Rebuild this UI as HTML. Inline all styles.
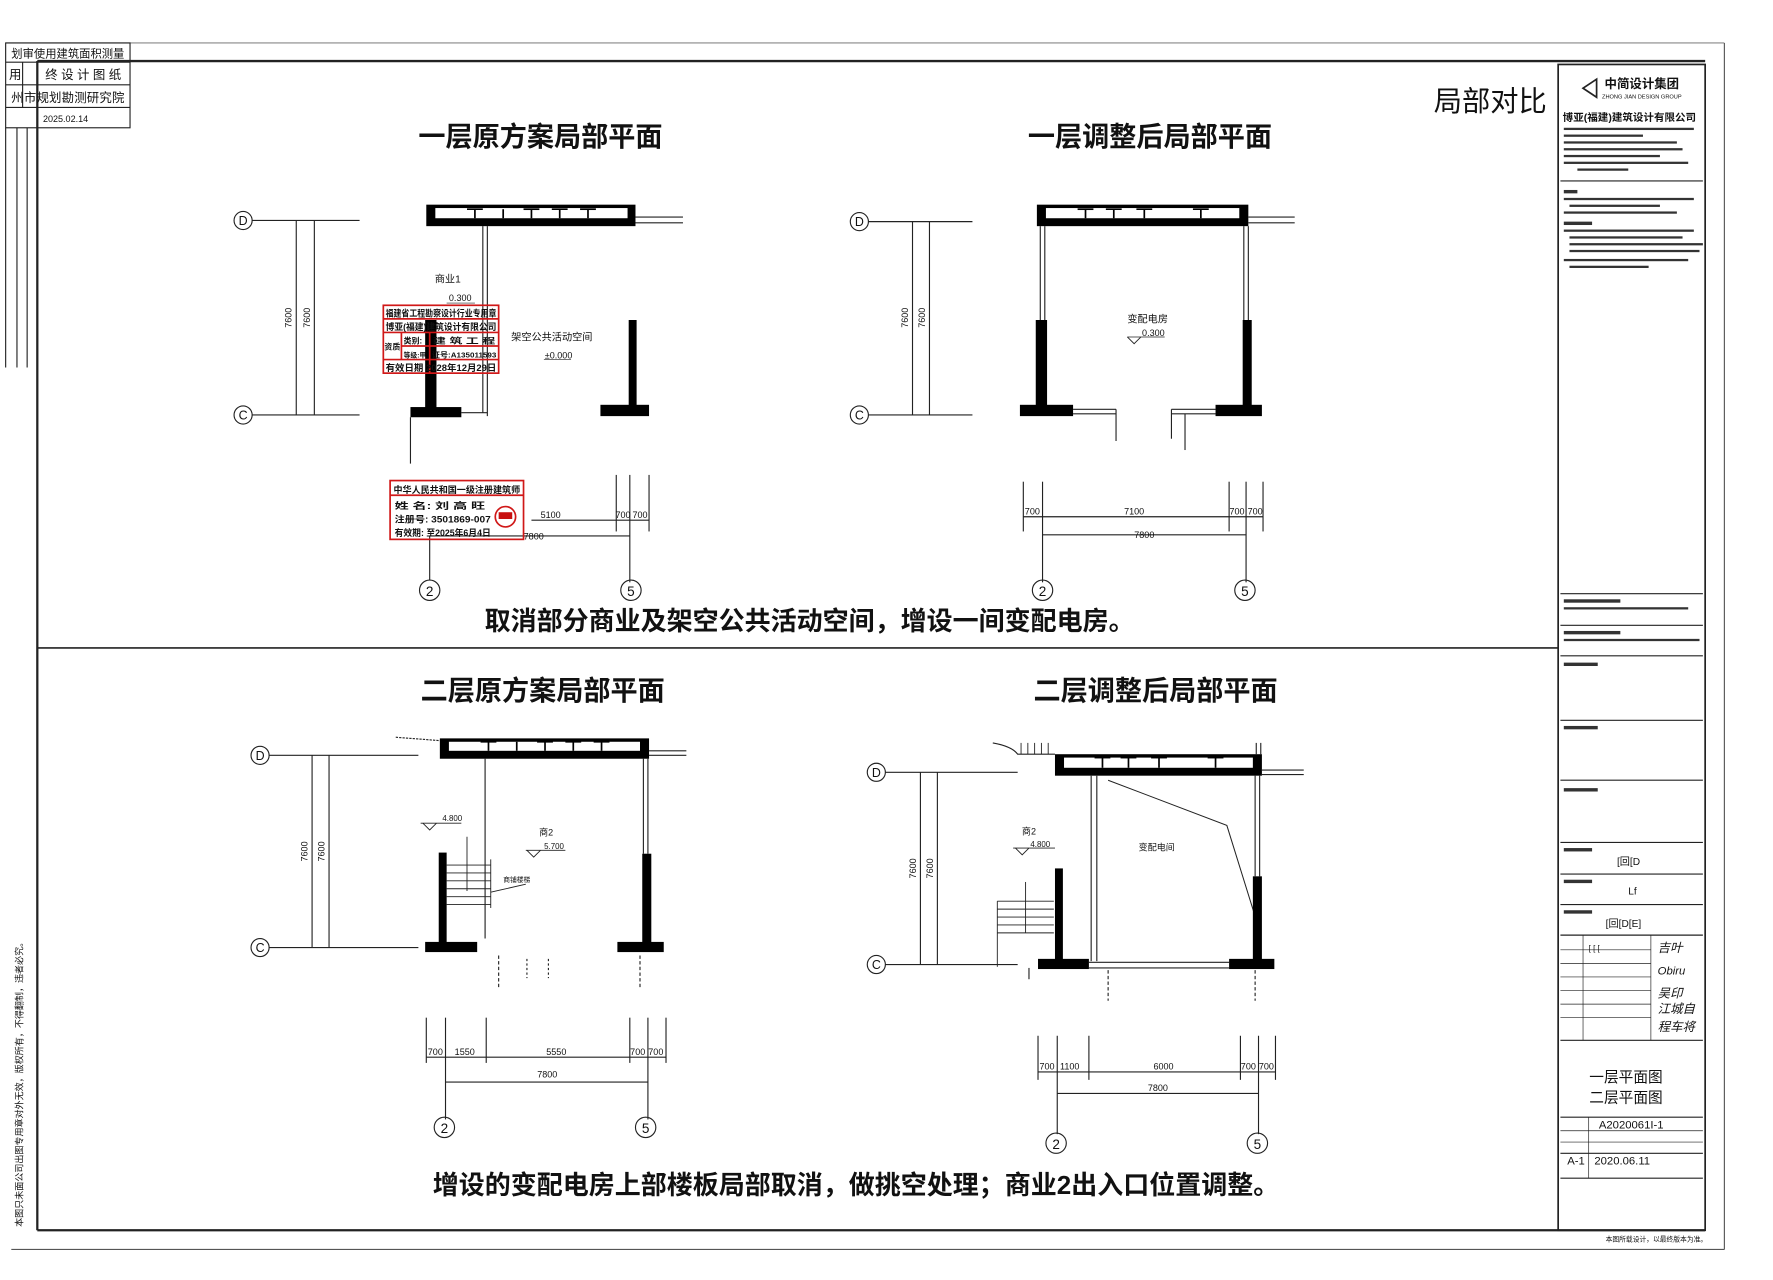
<!DOCTYPE html>
<html><head><meta charset="utf-8"><style>
html,body{margin:0;padding:0;background:#fff;}
svg{display:block;}
text{font-family:"Liberation Sans","Noto Sans CJK SC",sans-serif;fill:#111;}
.t{font-size:24px;font-weight:bold;}
.d{font-size:8px;}
.ax{font-size:11px;}
</style></head><body>
<svg width="1773" height="1280" viewBox="0 0 1568 1132" preserveAspectRatio="none" xmlns="http://www.w3.org/2000/svg">
<rect width="1568" height="1132" fill="#fff"/>
<g stroke="#222" fill="none">
<line x1="5" y1="38" x2="1525" y2="38" stroke="#888"/>
<line x1="33" y1="54" x2="1508" y2="54" stroke-width="2"/>
<line x1="33" y1="54" x2="33" y2="1088" stroke-width="2"/>
<line x1="33" y1="1088" x2="1508" y2="1088" stroke-width="2"/>
<line x1="1525" y1="38" x2="1525" y2="1105" stroke="#555"/>
<line x1="10" y1="1105" x2="1525" y2="1105" stroke="#555"/>
<line x1="33" y1="573" x2="1378" y2="573" stroke-width="1.5"/>
<rect x="1378" y="57" width="130" height="1031" stroke-width="1.5"/>
<line x1="1380" y1="160" x2="1506" y2="160"/>
<line x1="1380" y1="525" x2="1506" y2="525"/>
<line x1="1380" y1="553" x2="1506" y2="553"/>
<line x1="1380" y1="580" x2="1506" y2="580"/>
<line x1="1380" y1="637" x2="1506" y2="637"/>
<line x1="1380" y1="690" x2="1506" y2="690"/>
<line x1="1380" y1="745" x2="1506" y2="745"/>
<line x1="1380" y1="773" x2="1506" y2="773"/>
<line x1="1380" y1="800" x2="1506" y2="800"/>
<line x1="1380" y1="827" x2="1506" y2="827"/>
<line x1="1380" y1="920" x2="1506" y2="920"/>
<line x1="1380" y1="988" x2="1506" y2="988"/>
<line x1="1380" y1="1020" x2="1506" y2="1020"/>
<line x1="1380" y1="1042" x2="1506" y2="1042"/>
<g stroke-width="0.6">
<line x1="1380" y1="840" x2="1460" y2="840"/><line x1="1380" y1="852" x2="1460" y2="852"/>
<line x1="1380" y1="864" x2="1460" y2="864"/><line x1="1380" y1="876" x2="1460" y2="876"/>
<line x1="1380" y1="888" x2="1460" y2="888"/><line x1="1380" y1="900" x2="1460" y2="900"/>
<line x1="1400" y1="827" x2="1400" y2="920"/><line x1="1460" y1="827" x2="1460" y2="920"/>
<line x1="1380" y1="1000" x2="1506" y2="1000"/><line x1="1380" y1="1010" x2="1506" y2="1010"/>
<line x1="1405" y1="988" x2="1405" y2="1042"/>
</g>
<rect x="5" y="38" width="110" height="75"/>
<line x1="5" y1="55" x2="115" y2="55"/><line x1="5" y1="75" x2="115" y2="75"/><line x1="5" y1="95" x2="115" y2="95"/>
<line x1="20" y1="55" x2="20" y2="95"/><line x1="33" y1="55" x2="33" y2="113"/>
<line x1="5" y1="113" x2="5" y2="325"/><line x1="15" y1="113" x2="15" y2="325"/><line x1="24" y1="113" x2="24" y2="325"/>
</g>
<text x="60" y="51" font-size="10" text-anchor="middle" textLength="100">划审使用建筑面积测量</text>
<text x="8" y="70" font-size="11">用</text><text x="40" y="70" font-size="11">终 设 计 图 纸</text>
<text x="60" y="90" font-size="11" text-anchor="middle" textLength="100">州市规划勘测研究院</text>
<text x="38" y="108" font-size="8">2025.02.14</text>
<text transform="translate(20,1085) rotate(-90)" font-size="8">本图只未面公司出图专用章对外无效，版权所有，不得翻制，违者必究。</text>

<text x="1318" y="98" font-size="25" text-anchor="middle">局部对比</text>

<path d="M1400 78 L1412 70 L1412 86 Z" fill="none" stroke="#222" stroke-width="1.5"/>
<text x="1452" y="78" font-size="11" font-weight="bold" text-anchor="middle">中简设计集团</text>
<text x="1452" y="87" font-size="5" text-anchor="middle">ZHONG JIAN DESIGN GROUP</text>
<text x="1441" y="107" font-size="9" font-weight="bold" text-anchor="middle" textLength="118" lengthAdjust="spacingAndGlyphs">博亚(福建)建筑设计有限公司</text>
<g fill="#333"><rect x="1383" y="113" width="115" height="2"/><rect x="1383" y="119" width="70" height="2"/><rect x="1383" y="125" width="100" height="2"/><rect x="1383" y="131" width="105" height="2"/><rect x="1383" y="137" width="85" height="2"/><rect x="1383" y="143" width="110" height="2"/><rect x="1395" y="149" width="45" height="2"/>
<rect x="1383" y="168" width="12" height="3"/><rect x="1383" y="175" width="115" height="2"/><rect x="1388" y="181" width="80" height="2"/><rect x="1383" y="187" width="100" height="2"/><rect x="1383" y="196" width="25" height="3"/><rect x="1383" y="203" width="115" height="2"/><rect x="1388" y="209" width="100" height="2"/><rect x="1388" y="215" width="118" height="2"/><rect x="1388" y="221" width="115" height="2"/><rect x="1383" y="229" width="110" height="2"/><rect x="1388" y="235" width="70" height="2"/>
<rect x="1383" y="530" width="50" height="3"/><rect x="1383" y="537" width="110" height="2"/><rect x="1383" y="558" width="50" height="3"/><rect x="1383" y="565" width="120" height="2"/>
<rect x="1383" y="586" width="30" height="3"/><rect x="1383" y="642" width="30" height="3"/><rect x="1383" y="697" width="30" height="3"/><rect x="1383" y="750" width="25" height="3"/><rect x="1383" y="778" width="25" height="3"/><rect x="1383" y="805" width="25" height="3"/></g>
<text x="1430" y="765" font-size="9">[回[D</text>
<text x="1440" y="791" font-size="9">Lf</text>
<text x="1420" y="820" font-size="9">[回[D[E]</text>
<text x="1405" y="841" font-size="7">[ [ [</text>
<text x="1466" y="842" font-size="11" font-style="italic">吉叶</text>
<text x="1466" y="862" font-size="10" font-style="italic">Obiru</text>
<text x="1466" y="882" font-size="11" font-style="italic">吴印</text>
<text x="1466" y="896" font-size="11" font-style="italic">江城自</text>
<text x="1466" y="912" font-size="11" font-style="italic">程车将</text>
<text x="1438" y="957" font-size="13" text-anchor="middle">一层平面图</text>
<text x="1438" y="975" font-size="13" text-anchor="middle">二层平面图</text>
<text x="1414" y="998" font-size="10">A2020061I-1</text>
<text x="1386" y="1030" font-size="10">A-1</text><text x="1410" y="1030" font-size="10">2020.06.11</text>
<text x="1420" y="1098" font-size="6">本图所载设计，以最终版本为准。</text>

<!-- PLAN 1 -->
<text x="478" y="129" class="t" text-anchor="middle">一层原方案局部平面</text>
<g stroke="#222" fill="none" stroke-width="1">
<circle cx="215" cy="195" r="8"/><circle cx="215" cy="367" r="8"/>
<line x1="223" y1="195" x2="318" y2="195"/><line x1="223" y1="367" x2="318" y2="367"/>
<line x1="262" y1="195" x2="262" y2="367"/><line x1="278" y1="195" x2="278" y2="367"/>
<line x1="562" y1="192" x2="604" y2="192"/><line x1="562" y1="197" x2="604" y2="197"/>
<line x1="427" y1="200" x2="427" y2="365"/><line x1="431" y1="200" x2="431" y2="368"/>
<line x1="408" y1="365" x2="431" y2="365"/>
<line x1="363" y1="369" x2="363" y2="410"/>
<line x1="545" y1="420" x2="545" y2="470"/><line x1="557" y1="420" x2="557" y2="515"/><line x1="574" y1="420" x2="574" y2="470"/>
<line x1="470" y1="460" x2="574" y2="460"/>
<line x1="380" y1="474" x2="557" y2="474"/><line x1="380" y1="474" x2="380" y2="513"/>
<circle cx="380" cy="522" r="9"/><circle cx="558" cy="522" r="9"/>
<line x1="481" y1="318" x2="505" y2="318" stroke-width="0.6"/>
<line x1="395" y1="268" x2="420" y2="268" stroke-width="0.6"/>
</g>
<text x="215" y="199" class="ax" text-anchor="middle">D</text><text x="215" y="371" class="ax" text-anchor="middle">C</text>
<text transform="translate(258,281) rotate(-90)" class="d" text-anchor="middle">7600</text>
<text transform="translate(274,281) rotate(-90)" class="d" text-anchor="middle">7600</text>
<rect x="377" y="181" width="185" height="19" fill="#000"/>
<rect x="385" y="184" width="170" height="9" fill="#fff"/>
<g stroke="#000" stroke-width="1.5"><line x1="420" y1="185" x2="420" y2="193"/><line x1="445" y1="185" x2="445" y2="193"/><line x1="470" y1="185" x2="470" y2="193"/><line x1="495" y1="185" x2="495" y2="193"/><line x1="520" y1="185" x2="520" y2="193"/><line x1="413" y1="185" x2="427" y2="185"/><line x1="463" y1="185" x2="477" y2="185"/><line x1="488" y1="185" x2="502" y2="185"/><line x1="513" y1="185" x2="527" y2="185"/></g>
<rect x="376" y="283" width="10" height="79" fill="#000"/>
<rect x="363" y="360" width="45" height="9" fill="#000"/>
<rect x="556" y="283" width="7" height="77" fill="#000"/>
<rect x="531" y="358" width="43" height="10" fill="#000"/>
<text x="396" y="250" font-size="9" text-anchor="middle">商业1</text>
<text x="407" y="266" font-size="8" text-anchor="middle">0.300</text>
<text x="488" y="301" font-size="9" text-anchor="middle">架空公共活动空间</text>
<text x="494" y="317" font-size="8" text-anchor="middle">±0.000</text>
<text x="487" y="458" class="d" text-anchor="middle">5100</text>
<text x="551" y="458" class="d" text-anchor="middle">700</text><text x="566" y="458" class="d" text-anchor="middle">700</text>
<text x="472" y="477" class="d" text-anchor="middle">7800</text>
<text x="380" y="527" font-size="12" text-anchor="middle">2</text><text x="558" y="527" font-size="12" text-anchor="middle">5</text>
<g stroke="#d01818" fill="none" stroke-width="1.5">
<rect x="339" y="270" width="102" height="60"/>
<line x1="339" y1="282" x2="441" y2="282"/><line x1="339" y1="294" x2="441" y2="294"/><line x1="355" y1="306" x2="441" y2="306"/><line x1="339" y1="318" x2="441" y2="318"/>
<line x1="355" y1="294" x2="355" y2="318"/><line x1="380" y1="294" x2="380" y2="330"/>
<rect x="345" y="425" width="118" height="52"/><line x1="345" y1="438" x2="463" y2="438"/>
<circle cx="447" cy="457" r="9"/>
</g>
<g fill="#c81010" font-size="8" font-weight="bold" lengthAdjust="spacingAndGlyphs">
<text x="341" y="280" textLength="98" lengthAdjust="spacingAndGlyphs">福建省工程勘察设计行业专用章</text>
<text x="341" y="292" textLength="98" lengthAdjust="spacingAndGlyphs">博亚(福建)建筑设计有限公司</text>
<text x="340" y="309" font-size="7">资质</text><text x="357" y="304" font-size="7">类别:</text><text x="383" y="304" font-size="7" textLength="55" lengthAdjust="spacingAndGlyphs">建 筑 工 程</text>
<text x="357" y="316" font-size="6">等级:甲</text><text x="382" y="316" font-size="6.5" textLength="57" lengthAdjust="spacingAndGlyphs">证号:A135011593</text>
<text x="341" y="328" textLength="98" lengthAdjust="spacingAndGlyphs">有效日期 2028年12月29日</text>
<text x="348" y="436" textLength="112" lengthAdjust="spacingAndGlyphs">中华人民共和国一级注册建筑师</text>
<text x="349" y="450" textLength="80" lengthAdjust="spacingAndGlyphs">姓 名: 刘 高 旺</text>
<text x="349" y="462" textLength="85" lengthAdjust="spacingAndGlyphs">注册号: 3501869-007</text>
<text x="349" y="474" textLength="85" lengthAdjust="spacingAndGlyphs">有效期: 至2025年6月4日</text>
</g>
<rect x="441" y="453" width="12" height="6" fill="#c81010"/>

<text x="716" y="557" font-size="23" font-weight="bold" text-anchor="middle">取消部分商业及架空公共活动空间，增设一间变配电房。</text>

<!-- PLAN 2 -->
<text x="1017" y="129" class="t" text-anchor="middle">一层调整后局部平面</text>
<g stroke="#222" fill="none">
<circle cx="760" cy="196" r="8"/><circle cx="760" cy="367" r="8"/>
<line x1="768" y1="196" x2="860" y2="196"/><line x1="768" y1="367" x2="860" y2="367"/>
<line x1="807" y1="196" x2="807" y2="367"/><line x1="822" y1="196" x2="822" y2="367"/>
<line x1="1104" y1="192" x2="1145" y2="192"/><line x1="1104" y1="197" x2="1145" y2="197"/>
<line x1="920" y1="200" x2="920" y2="283"/><line x1="924" y1="200" x2="924" y2="283"/>
<line x1="1100" y1="200" x2="1100" y2="283"/><line x1="1104" y1="200" x2="1104" y2="283"/>
<line x1="949" y1="362" x2="987" y2="362"/><line x1="949" y1="366" x2="987" y2="366"/><line x1="987" y1="362" x2="987" y2="390"/>
<line x1="1036" y1="362" x2="1075" y2="362"/><line x1="1036" y1="366" x2="1075" y2="366"/><line x1="1036" y1="362" x2="1036" y2="388"/><line x1="1048" y1="366" x2="1048" y2="398"/>
<line x1="905" y1="426" x2="905" y2="470"/><line x1="922" y1="426" x2="922" y2="515"/><line x1="1087" y1="426" x2="1087" y2="470"/><line x1="1102" y1="426" x2="1102" y2="515"/><line x1="1117" y1="426" x2="1117" y2="470"/>
<line x1="905" y1="457" x2="1117" y2="457"/><line x1="922" y1="473" x2="1102" y2="473"/>
<circle cx="922" cy="522" r="9"/><circle cx="1101" cy="522" r="9"/>
<line x1="997" y1="298" x2="1030" y2="298" stroke-width="0.7"/>
<path d="M997 298 L1003 304 L1009 298" stroke-width="0.8"/>
</g>
<text x="760" y="200" class="ax" text-anchor="middle">D</text><text x="760" y="371" class="ax" text-anchor="middle">C</text>
<text transform="translate(803,281) rotate(-90)" class="d" text-anchor="middle">7600</text>
<text transform="translate(818,281) rotate(-90)" class="d" text-anchor="middle">7600</text>
<rect x="917" y="181" width="187" height="19" fill="#000"/>
<rect x="925" y="184" width="171" height="9" fill="#fff"/>
<g stroke="#000" stroke-width="1.5"><line x1="960" y1="185" x2="960" y2="193"/><line x1="985" y1="185" x2="985" y2="193"/><line x1="1012" y1="185" x2="1012" y2="193"/><line x1="1062" y1="185" x2="1062" y2="193"/><line x1="953" y1="185" x2="967" y2="185"/><line x1="978" y1="185" x2="992" y2="185"/><line x1="1005" y1="185" x2="1019" y2="185"/><line x1="1055" y1="185" x2="1069" y2="185"/></g>
<rect x="916" y="283" width="10" height="77" fill="#000"/>
<rect x="902" y="358" width="47" height="10" fill="#000"/>
<rect x="1099" y="283" width="8" height="77" fill="#000"/>
<rect x="1075" y="358" width="41" height="10" fill="#000"/>
<text x="1015" y="285" font-size="9" text-anchor="middle">变配电房</text>
<text x="1020" y="297" font-size="8" text-anchor="middle">0.300</text>
<text x="913" y="455" class="d" text-anchor="middle">700</text><text x="1003" y="455" class="d" text-anchor="middle">7100</text>
<text x="1094" y="455" class="d" text-anchor="middle">700</text><text x="1110" y="455" class="d" text-anchor="middle">700</text>
<text x="1012" y="476" class="d" text-anchor="middle">7800</text>
<text x="922" y="527" font-size="12" text-anchor="middle">2</text><text x="1101" y="527" font-size="12" text-anchor="middle">5</text>

<!-- PLAN 3 -->
<text x="480" y="619" class="t" text-anchor="middle">二层原方案局部平面</text>
<g stroke="#222" fill="none">
<circle cx="230" cy="668" r="8"/><circle cx="230" cy="838" r="8"/>
<line x1="238" y1="668" x2="370" y2="668"/><line x1="238" y1="838" x2="370" y2="838"/>
<line x1="276" y1="668" x2="276" y2="838"/><line x1="291" y1="668" x2="291" y2="838"/>
<line x1="350" y1="652" x2="389" y2="655" stroke-dasharray="2 1"/>
<line x1="574" y1="664" x2="607" y2="664"/><line x1="574" y1="668" x2="607" y2="668"/>
<line x1="429" y1="671" x2="429" y2="830"/>
<line x1="569" y1="671" x2="569" y2="755"/><line x1="573" y1="671" x2="573" y2="755"/>
<g stroke-width="0.8"><line x1="395" y1="765" x2="434" y2="765"/><line x1="395" y1="772" x2="434" y2="772"/><line x1="395" y1="779" x2="434" y2="779"/><line x1="395" y1="786" x2="434" y2="786"/><line x1="395" y1="793" x2="434" y2="793"/><line x1="395" y1="800" x2="434" y2="800"/><line x1="434" y1="760" x2="434" y2="803"/><line x1="413" y1="740" x2="413" y2="788"/><line x1="434" y1="789" x2="465" y2="782"/></g>
<line x1="441" y1="845" x2="441" y2="875" stroke-dasharray="3 2"/><line x1="566" y1="845" x2="566" y2="875" stroke-dasharray="3 2"/>
<line x1="485" y1="848" x2="485" y2="865" stroke-dasharray="2 2"/><line x1="466" y1="848" x2="466" y2="865" stroke-dasharray="2 2"/>
<line x1="377" y1="900" x2="377" y2="940"/><line x1="394" y1="900" x2="394" y2="990"/><line x1="430" y1="900" x2="430" y2="940"/><line x1="557" y1="900" x2="557" y2="940"/><line x1="573" y1="900" x2="573" y2="990"/><line x1="589" y1="900" x2="589" y2="940"/>
<line x1="377" y1="935" x2="589" y2="935"/><line x1="394" y1="957" x2="573" y2="957"/>
<circle cx="393" cy="997" r="9"/><circle cx="571" cy="997" r="9"/>
<line x1="372" y1="728" x2="408" y2="728" stroke-width="0.7"/><path d="M374 728 L380 734 L386 728" stroke-width="0.8"/>
<line x1="465" y1="752" x2="500" y2="752" stroke-width="0.7"/><path d="M466 752 L472 758 L478 752" stroke-width="0.8"/>
</g>
<text x="230" y="672" class="ax" text-anchor="middle">D</text><text x="230" y="842" class="ax" text-anchor="middle">C</text>
<text transform="translate(272,753) rotate(-90)" class="d" text-anchor="middle">7600</text>
<text transform="translate(287,753) rotate(-90)" class="d" text-anchor="middle">7600</text>
<rect x="389" y="653" width="185" height="18" fill="#000"/>
<rect x="397" y="656" width="169" height="8" fill="#fff"/>
<g stroke="#000" stroke-width="1.5"><line x1="432" y1="656" x2="432" y2="664"/><line x1="457" y1="656" x2="457" y2="664"/><line x1="482" y1="656" x2="482" y2="664"/><line x1="507" y1="656" x2="507" y2="664"/><line x1="532" y1="656" x2="532" y2="664"/><line x1="475" y1="656" x2="489" y2="656"/><line x1="500" y1="656" x2="514" y2="656"/><line x1="425" y1="656" x2="439" y2="656"/><line x1="525" y1="656" x2="539" y2="656"/></g>
<rect x="388" y="754" width="7" height="81" fill="#000"/>
<rect x="376" y="833" width="46" height="9" fill="#000"/>
<rect x="568" y="755" width="8" height="80" fill="#000"/>
<rect x="546" y="833" width="41" height="9" fill="#000"/>
<text x="400" y="726" font-size="7" text-anchor="middle">4.800</text>
<text x="483" y="739" font-size="8" text-anchor="middle">商2</text>
<text x="490" y="751" font-size="7" text-anchor="middle">5.700</text>
<text x="457" y="780" font-size="6" text-anchor="middle">商铺楼梯</text>
<text x="385" y="933" class="d" text-anchor="middle">700</text><text x="411" y="933" class="d" text-anchor="middle">1550</text>
<text x="492" y="933" class="d" text-anchor="middle">5550</text><text x="564" y="933" class="d" text-anchor="middle">700</text><text x="580" y="933" class="d" text-anchor="middle">700</text>
<text x="484" y="953" class="d" text-anchor="middle">7800</text>
<text x="393" y="1002" font-size="12" text-anchor="middle">2</text><text x="571" y="1002" font-size="12" text-anchor="middle">5</text>

<!-- PLAN 4 -->
<text x="1022" y="619" class="t" text-anchor="middle">二层调整后局部平面</text>
<g stroke="#222" fill="none">
<circle cx="775" cy="683" r="8"/><circle cx="775" cy="853" r="8"/>
<line x1="783" y1="683" x2="900" y2="683"/><line x1="783" y1="853" x2="900" y2="853"/>
<line x1="814" y1="683" x2="814" y2="853"/><line x1="829" y1="683" x2="829" y2="853"/>
<path d="M878 657 Q895 660 900 667 L933 667"/>
<g stroke-width="0.8"><line x1="903" y1="657" x2="903" y2="667"/><line x1="909" y1="657" x2="909" y2="667"/><line x1="915" y1="657" x2="915" y2="667"/><line x1="921" y1="657" x2="921" y2="667"/><line x1="927" y1="657" x2="927" y2="667"/></g>
<line x1="1116" y1="681" x2="1153" y2="681"/><line x1="1116" y1="685" x2="1153" y2="685"/>
<line x1="1111" y1="657" x2="1111" y2="667"/><line x1="1115" y1="657" x2="1115" y2="667"/>
<line x1="965" y1="686" x2="965" y2="850"/><line x1="970" y1="686" x2="970" y2="850"/>
<line x1="1110" y1="686" x2="1110" y2="775"/><line x1="1114" y1="686" x2="1114" y2="775"/>
<polyline points="980,690 1085,730 1113,820" stroke-width="0.9"/>
<line x1="963" y1="851" x2="1087" y2="851"/><line x1="963" y1="856" x2="1087" y2="856"/>
<g stroke-width="0.8"><line x1="882" y1="797" x2="932" y2="797"/><line x1="882" y1="804" x2="932" y2="804"/><line x1="882" y1="811" x2="932" y2="811"/><line x1="882" y1="818" x2="932" y2="818"/><line x1="882" y1="825" x2="932" y2="825"/><line x1="882" y1="797" x2="882" y2="855"/><line x1="907" y1="780" x2="907" y2="825"/></g>
<line x1="910" y1="856" x2="910" y2="866"/>
<line x1="980" y1="858" x2="980" y2="885" stroke-dasharray="3 2"/><line x1="1110" y1="858" x2="1110" y2="885" stroke-dasharray="3 2"/>
<line x1="918" y1="916" x2="918" y2="955"/><line x1="935" y1="916" x2="935" y2="1003"/><line x1="963" y1="916" x2="963" y2="955"/><line x1="1097" y1="916" x2="1097" y2="955"/><line x1="1113" y1="916" x2="1113" y2="1003"/><line x1="1128" y1="916" x2="1128" y2="955"/>
<line x1="918" y1="948" x2="1128" y2="948"/><line x1="935" y1="967" x2="1113" y2="967"/>
<circle cx="934" cy="1011" r="9"/><circle cx="1112" cy="1011" r="9"/>
<line x1="896" y1="750" x2="933" y2="750" stroke-width="0.7"/><path d="M898 750 L904 756 L910 750" stroke-width="0.8"/>
</g>
<text x="775" y="687" class="ax" text-anchor="middle">D</text><text x="775" y="857" class="ax" text-anchor="middle">C</text>
<text transform="translate(810,768) rotate(-90)" class="d" text-anchor="middle">7600</text>
<text transform="translate(825,768) rotate(-90)" class="d" text-anchor="middle">7600</text>
<rect x="933" y="667" width="183" height="19" fill="#000"/>
<rect x="941" y="670" width="167" height="9" fill="#fff"/>
<g stroke="#000" stroke-width="1.5"><line x1="975" y1="670" x2="975" y2="679"/><line x1="998" y1="670" x2="998" y2="679"/><line x1="1025" y1="670" x2="1025" y2="679"/><line x1="1075" y1="670" x2="1075" y2="679"/><line x1="968" y1="670" x2="982" y2="670"/><line x1="991" y1="670" x2="1005" y2="670"/><line x1="1018" y1="670" x2="1032" y2="670"/><line x1="1068" y1="670" x2="1082" y2="670"/></g>
<rect x="933" y="768" width="7" height="82" fill="#000"/>
<rect x="918" y="848" width="45" height="9" fill="#000"/>
<rect x="1108" y="775" width="8" height="75" fill="#000"/>
<rect x="1087" y="848" width="40" height="9" fill="#000"/>
<text x="910" y="738" font-size="8" text-anchor="middle">商2</text>
<text x="920" y="749" font-size="7" text-anchor="middle">4.800</text>
<text x="1023" y="752" font-size="8" text-anchor="middle">变配电间</text>
<text x="926" y="946" class="d" text-anchor="middle">700</text><text x="946" y="946" class="d" text-anchor="middle">1100</text>
<text x="1029" y="946" class="d" text-anchor="middle">6000</text><text x="1104" y="946" class="d" text-anchor="middle">700</text><text x="1120" y="946" class="d" text-anchor="middle">700</text>
<text x="1024" y="965" class="d" text-anchor="middle">7800</text>
<text x="934" y="1016" font-size="12" text-anchor="middle">2</text><text x="1112" y="1016" font-size="12" text-anchor="middle">5</text>

<text x="757" y="1056" font-size="23" font-weight="bold" text-anchor="middle">增设的变配电房上部楼板局部取消，做挑空处理；商业2出入口位置调整。</text>
</svg>
</body></html>
